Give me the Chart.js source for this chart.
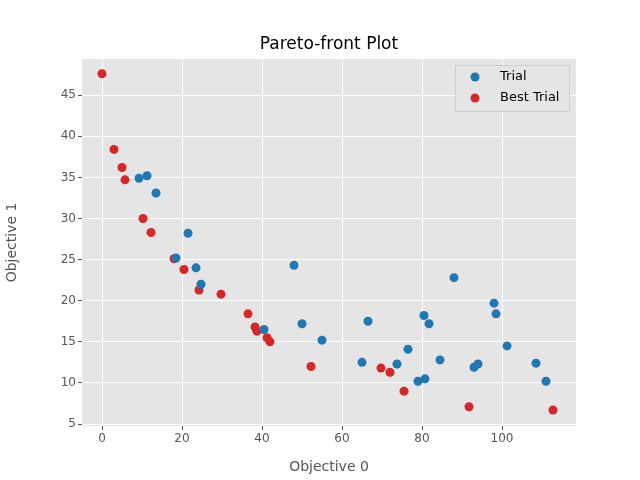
<!DOCTYPE html>
<html>
<head>
<meta charset="utf-8">
<script src="https://cdn.jsdelivr.net/npm/chart.js@4"></script>
<style>
	body { margin: 0; background: #fff; }
	#wrap { width: 640px; height: 480px; }
</style>
</head>
<body>
<div id="wrap"><canvas id="c" width="640" height="480"></canvas></div>
<script>
const trialX = [9.25, 11.25, 13.5, 18.5, 21.5, 23.5, 24.75, 40.5, 48, 50, 55, 65, 66.5, 73.75, 76.5, 79, 80.5, 80.75, 81.75, 84.5, 88, 93, 94, 98, 98.5, 101.25, 108.5, 111];
const trialY = [34.9, 35.2, 33.1, 25.2, 28.2, 24.0, 22.0, 16.5, 24.3, 17.2, 15.2, 12.5, 17.5, 12.3, 14.1, 10.2, 18.2, 10.5, 17.2, 12.8, 22.8, 11.9, 12.3, 19.7, 18.4, 14.5, 12.4, 10.2];
const bestX = [0, 3, 5, 5.75, 10.25, 12.25, 18, 20.5, 24.25, 29.75, 36.5, 38.25, 38.75, 41.25, 42, 52.25, 69.75, 72, 75.5, 91.75, 112.75];
const bestY = [47.6, 38.4, 36.2, 34.7, 30.0, 28.3, 25.1, 23.8, 21.3, 20.8, 18.4, 16.8, 16.3, 15.5, 15.0, 12.0, 11.8, 11.3, 9.0, 7.1, 6.7];

const toPoints = (xs, ys) => xs.map((x, i) => ({ x: x, y: ys[i] }));

const decor = {
	id: "decor",
	beforeDraw(chart) {
		const { ctx, chartArea: a } = chart;
		ctx.save();
		ctx.fillStyle = "#E5E5E5";
		ctx.fillRect(a.left, a.top, a.right - a.left, a.bottom - a.top);
		ctx.restore();
	},
	afterDraw(chart) {
		const { ctx } = chart;
		ctx.save();
		ctx.fillStyle = "#000";
		ctx.font = "17px 'DejaVu Sans'";
		ctx.textAlign = "center";
		ctx.textBaseline = "alphabetic";
		ctx.fillText("Pareto-front Plot", 329, 49);
		// legend box
		const bx = 455, by = 65, bw = 114, bh = 46;
		ctx.fillStyle = "rgba(229,229,229,0.8)";
		ctx.strokeStyle = "#ccc";
		ctx.lineWidth = 1;
		ctx.beginPath();
		ctx.rect(bx + 0.5, by + 0.5, bw, bh);
		ctx.fill();
		ctx.stroke();
		ctx.font = "13px 'DejaVu Sans'";
		ctx.textAlign = "left";
		ctx.textBaseline = "middle";
		[["Trial", "#1f77b4", 77], ["Best Trial", "#d62728", 98]].forEach(([t, c, y]) => {
			ctx.fillStyle = c;
			ctx.beginPath();
			ctx.arc(475, y, 4.5, 0, Math.PI * 2);
			ctx.fill();
			ctx.fillStyle = "#000";
			ctx.fillText(t, 500, y);
		});
		ctx.restore();
	},
};

new Chart(document.getElementById("c"), {
	type: "scatter",
	data: {
		datasets: [
			{ label: "Trial", data: toPoints(trialX, trialY), backgroundColor: "#1f77b4", pointRadius: 4.5, pointHoverRadius: 4.5, borderWidth: 0 },
			{ label: "Best Trial", data: toPoints(bestX, bestY), backgroundColor: "#d62728", pointRadius: 4.5, pointHoverRadius: 4.5, borderWidth: 0 },
		],
	},
	options: {
		responsive: false,
		animation: false,
		layout: { padding: { top: 59, right: 64, left: 0, bottom: 0 } },
		plugins: { legend: { display: false }, tooltip: { enabled: false } },
		scales: {
			x: {
				min: -5, max: 118.5,
				afterFit: (s) => { s.height = 54; },
				afterBuildTicks: (s) => { s.ticks = [0, 20, 40, 60, 80, 100].map((v) => ({ value: v })); },
				grid: { color: "#fff", lineWidth: 1, tickColor: "#555", tickLength: 4 },
				border: { display: false },
				ticks: { color: "#555", font: { size: 12, family: "DejaVu Sans" }, padding: 2 },
				title: { display: true, text: "Objective 0", color: "#555", font: { size: 14, family: "DejaVu Sans" }, padding: { top: 2 } },
			},
			y: {
				min: 4.76, max: 49.4,
				afterFit: (s) => { s.width = 82; },
				afterBuildTicks: (s) => { s.ticks = [5, 10, 15, 20, 25, 30, 35, 40, 45].map((v) => ({ value: v })); },
				grid: { color: "#fff", lineWidth: 1, tickColor: "#555", tickLength: 4 },
				border: { display: false },
				ticks: { color: "#555", font: { size: 12, family: "DejaVu Sans" }, padding: 2 },
				title: { display: true, text: "Objective 1", color: "#555", font: { size: 14, family: "DejaVu Sans" } },
			},
		},
	},
	plugins: [decor],
});
</script>
</body>
</html>
